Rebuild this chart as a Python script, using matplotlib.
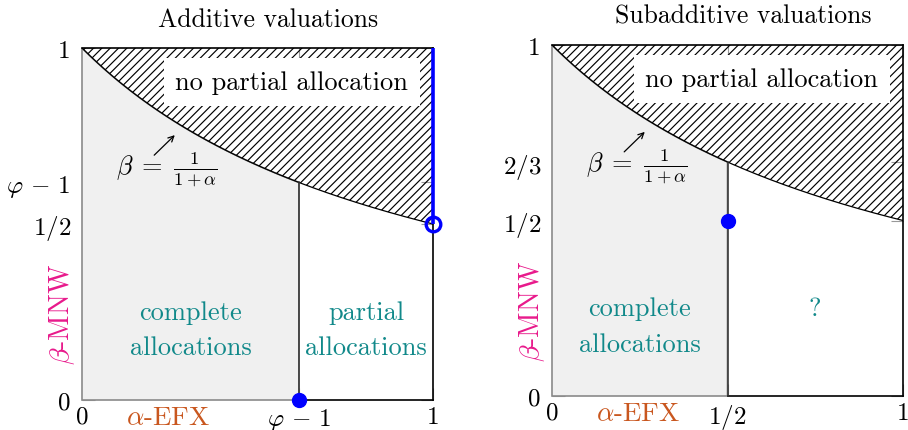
import numpy as np
import matplotlib
matplotlib.use("Agg")
import matplotlib.pyplot as plt

plt.rcParams["font.family"] = "cmr10"
plt.rcParams["mathtext.fontset"] = "cm"
plt.rcParams["axes.formatter.use_mathtext"] = True
plt.rcParams["hatch.linewidth"] = 0.85

# Thresholds
phi_minus_1 = (np.sqrt(5) - 1) / 2
panels = ["Additive valuations", "Subadditive valuations"]
alpha_split = [phi_minus_1, 0.5]          # where complete allocations stop
x_ticks = [[0, phi_minus_1, 1], [0, 0.5, 1]]
x_ticklabels = [["0", r"$\varphi\,-\,1$", "1"], ["0", r"$1/2$", "1"]]
y_ticks = [[0, 0.5, phi_minus_1, 1], [0, 0.5, 2 / 3, 1]]
y_ticklabels = [["0", r"$1/2$", r"$\varphi\,-\,1$", "1"],
                ["0", r"$1/2$", r"$2/3$", "1"]]
blue_dots = [(phi_minus_1, 0.0), (0.5, 0.5)]

TEAL = "#11898a"
PINK = "#e8198b"
ORANGE = "#c9571f"
GRAY_FILL = "#f0f0f0"
EDGE_GRAY = "#8a8a8a"
BLUE = "#0000ff"

FS = 19

fig = plt.figure(figsize=(9.08, 4.31), dpi=100)
rects = [[82 / 908, 30 / 431, 351 / 908, 352 / 431],
         [552 / 908, 34 / 431, 351 / 908, 351 / 431]]
title_x = [0.53, 0.545]

alpha = np.linspace(0, 1, 400)
beta = 1 / (1 + alpha)          # boundary beta = 1/(1+alpha)

for i in range(2):
    ax = fig.add_axes(rects[i])
    ax.set_xlim(0, 1)
    ax.set_ylim(0, 1)
    ax.set_axisbelow(True)
    for s in ax.spines.values():
        s.set_visible(False)

    a0 = alpha_split[i]
    b0 = 1 / (1 + a0)

    # complete-allocation region under the curve
    m = alpha <= a0
    xs = np.concatenate([[0], alpha[m], [a0, a0]])
    ys = np.concatenate([[0], beta[m], [b0, 0]])
    ax.fill(xs, ys, facecolor=GRAY_FILL, edgecolor=EDGE_GRAY, lw=1.2,
            zorder=1, clip_on=False)

    # infeasible region above the curve
    ax.fill_between(alpha, beta, 1, facecolor="none", edgecolor="black",
                    hatch="////", lw=0, zorder=1.5)

    # boundaries
    ax.plot(alpha, beta, color="black", lw=0.9, zorder=3)
    ax.plot([0, 1], [1, 1], color="black", lw=1.2, zorder=3, clip_on=False)
    ax.plot([1, 1], [0, 1], color="black", lw=1.2, zorder=3, clip_on=False)
    ax.plot([a0, 1], [0, 0], color="black", lw=1.2, zorder=3, clip_on=False)
    ax.plot([a0, a0], [0, b0], color="#333333", lw=1.1, zorder=3, clip_on=False)

    # ticks
    ax.set_xticks(x_ticks[i])
    ax.set_xticklabels(x_ticklabels[i])
    ax.set_yticks(y_ticks[i])
    ax.set_yticklabels(y_ticklabels[i])
    ax.tick_params(direction="in", length=9, width=0.8, color="#999999",
                   top=True, right=True, labelsize=FS - 1)
    ax.tick_params(axis="x", pad=4)
    ax.tick_params(axis="y", pad=8)

    ax.text(title_x[i], 1.083, panels[i], transform=ax.transAxes,
            ha="center", va="center", fontsize=18.5)

    # axis names
    ax.text(0.245, -0.048, r"$\alpha$-EFX", ha="center", va="center",
            fontsize=FS + 0.5, color=ORANGE, clip_on=False)
    ax.text(-0.058, 0.245, r"$\beta$-MNW", ha="center", va="center",
            fontsize=FS + 1, color=PINK, rotation=90, clip_on=False)

    ax.text(0.598, 0.903, "no partial allocation", ha="center", va="center",
            fontsize=FS, zorder=4,
            bbox=dict(boxstyle="square,pad=0.45", facecolor="white",
                      edgecolor="none"))

    # region labels
    ax.text(a0 / 2 if i == 0 else 0.25, 0.2, "complete\nallocations",
            ha="center", va="center", fontsize=FS, color=TEAL,
            linespacing=1.65, zorder=4)
    if i == 0:
        ax.text(0.81, 0.2, "partial\nallocations", ha="center", va="center",
                fontsize=FS, color=TEAL, linespacing=1.65, zorder=4)
    else:
        ax.text(0.75, 0.25, "?", ha="center", va="center",
                fontsize=FS, color=TEAL, zorder=4)

    ax.annotate("", xy=(0.27, 0.758), xytext=(0.20, 0.69),
                arrowprops=dict(arrowstyle="->", lw=0.9, color="black"),
                zorder=4)
    ax.text(0.24, 0.656, r"$\beta\;=\;\frac{1}{1+\alpha}$", ha="center",
            va="center", fontsize=FS, zorder=4)

    if i == 0:
        ax.plot([1, 1], [0.5, 1], color=BLUE, lw=2.6, zorder=5,
                clip_on=False, solid_capstyle="butt")
        ax.plot([1], [0.5], marker="o", ms=10.5, mfc="none", mec=BLUE,
                mew=2.4, zorder=6, clip_on=False)
    ax.plot([blue_dots[i][0]], [blue_dots[i][1]], marker="o", ms=10,
            color=BLUE, zorder=6, clip_on=False)

fig.savefig("out.png", dpi=100)
